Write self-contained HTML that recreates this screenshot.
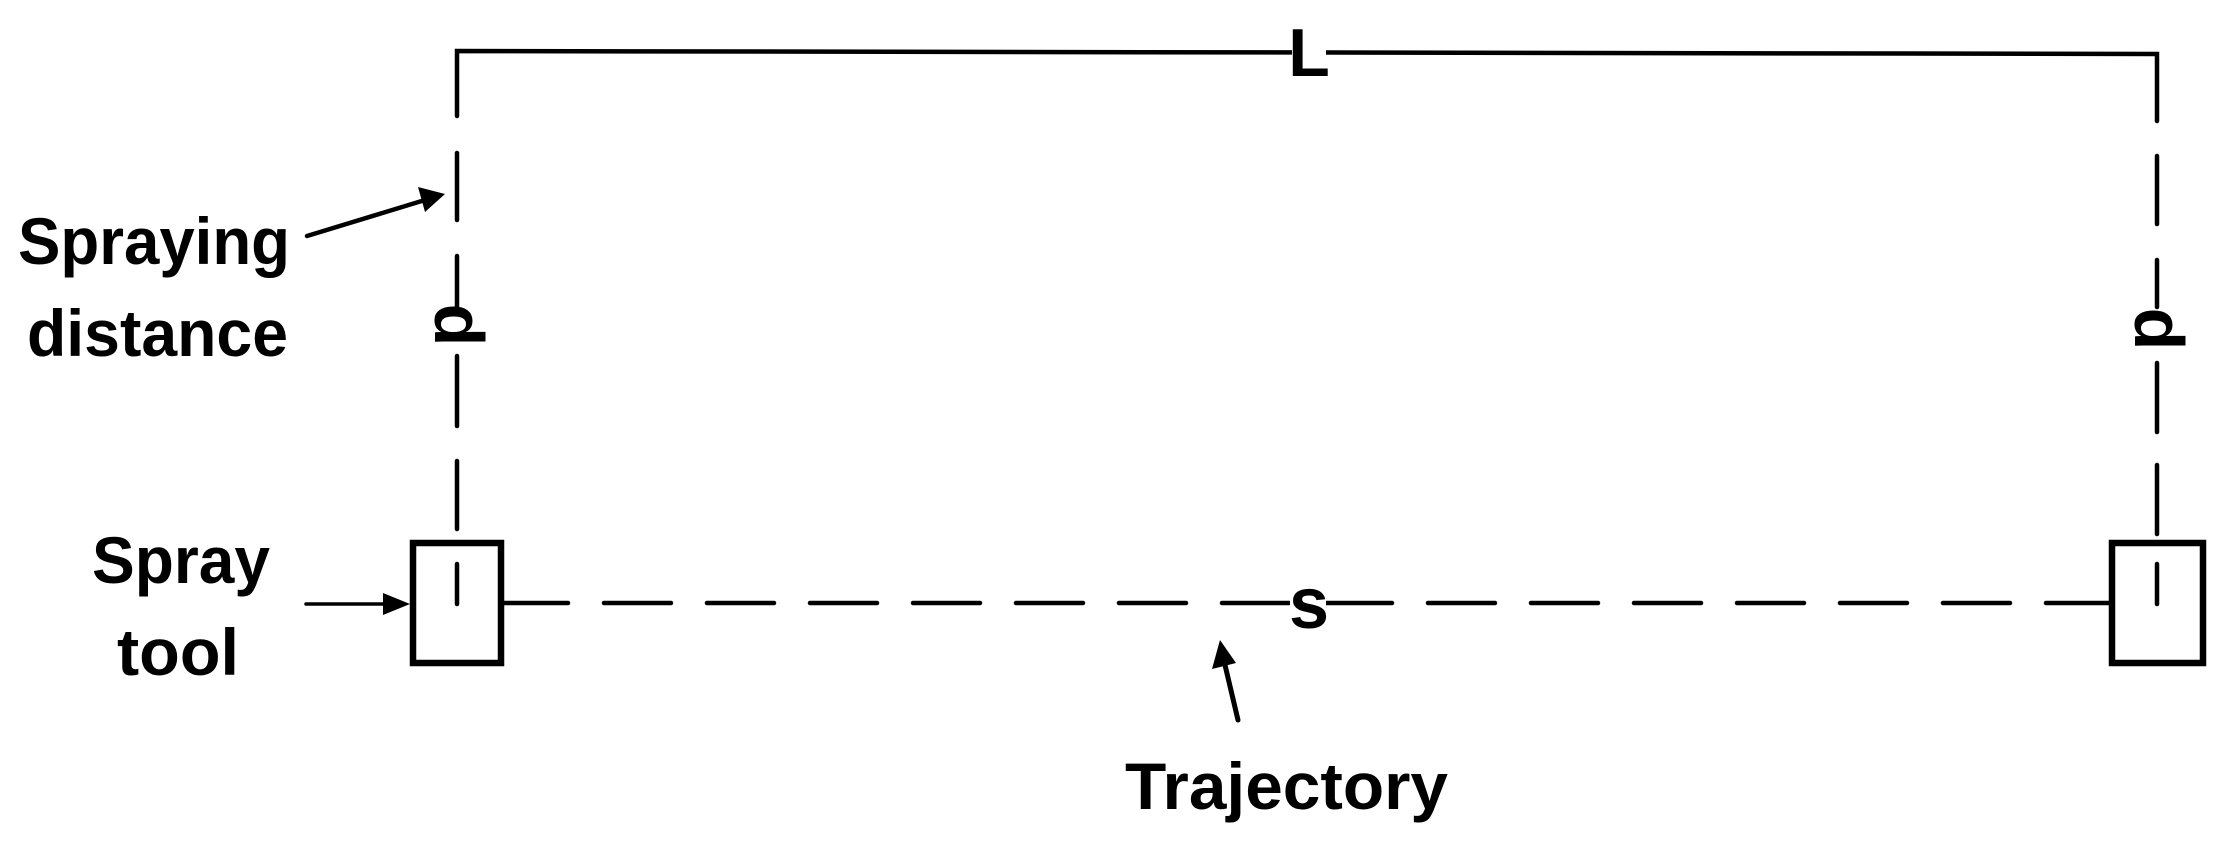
<!DOCTYPE html>
<html><head><meta charset="utf-8"><style>
html,body{margin:0;padding:0;background:#fff}
svg{display:block}
text{font-family:"Liberation Sans",sans-serif;font-weight:bold;fill:#000}
</style></head><body>
<svg width="2229" height="846" viewBox="0 0 2229 846" xmlns="http://www.w3.org/2000/svg">
<defs>
<marker id="ah" markerWidth="10" markerHeight="8" refX="9" refY="4" orient="auto" markerUnits="userSpaceOnUse" viewBox="0 0 10 8">
</marker>
</defs>
<g stroke="#000" stroke-width="4.5" fill="none" stroke-linecap="round">
<!-- top line -->
<polyline points="457,116 457,51 2157,54 2157,121"/>
<!-- left vertical dashes -->
<line x1="457" y1="153" x2="457" y2="220"/>
<line x1="457" y1="256" x2="457" y2="310"/>
<line x1="457" y1="356" x2="457" y2="426"/>
<line x1="457" y1="461" x2="457" y2="529"/>
<line x1="457" y1="564" x2="457" y2="604"/>
<!-- right vertical dashes -->
<line x1="2157" y1="156" x2="2157" y2="224"/>
<line x1="2157" y1="260" x2="2157" y2="307"/>
<line x1="2157" y1="363" x2="2157" y2="432"/>
<line x1="2157" y1="465" x2="2157" y2="534"/>
<line x1="2157" y1="564" x2="2157" y2="604"/>
<!-- trajectory -->
<line x1="504" y1="603" x2="568" y2="603"/>
<line x1="604" y1="603" x2="2109" y2="603" stroke-dasharray="67 36"/>
<!-- arrows lines -->
<line x1="307" y1="236" x2="425" y2="200"/>
<line x1="306" y1="604" x2="385" y2="604" stroke-width="3.5"/>
<line x1="1238" y1="720" x2="1225" y2="665" stroke-width="5"/>
</g>
<!-- arrowheads -->
<polygon points="445,194 418,187 425,212" fill="#000"/>
<polygon points="410,604 383,593 383,615" fill="#000"/>
<polygon points="1220,640 1212,669 1236,663" fill="#000"/>
<!-- boxes -->
<rect x="413" y="543" width="88" height="120" fill="none" stroke="#000" stroke-width="6.5"/>
<rect x="2112" y="543" width="91" height="120" fill="none" stroke="#000" stroke-width="6.5"/>
<!-- L and s -->
<rect x="1292" y="40" width="34" height="30" fill="#fff"/>
<text x="1309" y="76" font-size="68" text-anchor="middle">L</text>
<rect x="1290" y="590" width="36" height="26" fill="#fff"/>
<text x="1309" y="628" font-size="72" text-anchor="middle">s</text>
<!-- d labels -->
<text x="435" y="325" font-size="70" text-anchor="middle" transform="rotate(90 435 325)">d</text>
<text x="2135" y="329" font-size="70" text-anchor="middle" transform="rotate(90 2135 329)">d</text>
<!-- labels -->
<text x="18" y="264" font-size="66" textLength="272" lengthAdjust="spacingAndGlyphs">Spraying</text>
<text x="27" y="356" font-size="66" textLength="261" lengthAdjust="spacingAndGlyphs">distance</text>
<text x="92" y="583" font-size="66" textLength="178" lengthAdjust="spacingAndGlyphs">Spray</text>
<text x="117" y="675" font-size="66" textLength="122" lengthAdjust="spacingAndGlyphs">tool</text>
<text x="1125" y="809" font-size="66" textLength="323" lengthAdjust="spacingAndGlyphs">Trajectory</text>
</svg>
</body></html>
